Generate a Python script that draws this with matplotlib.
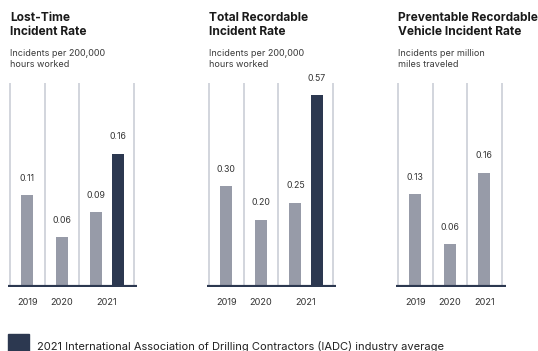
import matplotlib.pyplot as plt
from matplotlib.patches import Rectangle

plt.rcParams['font.family'] = ['Inter', 'DejaVu Sans']

# データ
titles = ["Lost-Time\nIncident Rate",
          "Total Recordable\nIncident Rate",
          "Preventable Recordable\nVehicle Incident Rate"]
subtitles = ["Incidents per 200,000\nhours worked",
             "Incidents per 200,000\nhours worked",
             "Incidents per million\nmiles traveled"]
years = ["2019", "2020", "2021"]
company_vals = [[0.11, 0.06, 0.09],
                [0.30, 0.20, 0.25],
                [0.13, 0.06, 0.16]]
iadc_vals = [0.16, 0.57, None]  # 2021 IADC平均（3つ目はなし）
ymax = [0.245, 0.606, 0.286]

grey = '#979ba8'
navy = '#2c3850'
grid_c = '#cfd2da'

W, H = 538, 351
fig = plt.figure(figsize=(W / 100, H / 100), dpi=100)

unit = 34.5
lefts = [8, 207, 396]
for i in range(3):
    has_iadc = iadc_vals[i] is not None
    x0, x1 = -0.56, (3.18 if has_iadc else 2.62)
    ax = fig.add_axes([lefts[i] / W, 64 / H, (x1 - x0) * unit / W, 204 / H])
    ax.set_xlim(x0, x1)
    ax.set_ylim(0, ymax[i])

    xs = [0, 1, 2]
    ax.bar(xs, company_vals[i], width=0.34, color=grey, zorder=2)
    for x, v in zip(xs, company_vals[i]):
        ax.annotate(f"{v:.2f}", (x, v), xytext=(0, 9), textcoords='offset points',
                    ha='center', va='bottom', fontsize=6.3, color='#333333')
    seps = [-0.5, 0.5, 1.5, 2.5]
    if has_iadc:
        ax.bar([2.62], [iadc_vals[i]], width=0.34, color=navy, zorder=2)
        ax.annotate(f"{iadc_vals[i]:.2f}", (2.62, iadc_vals[i]), xytext=(0, 9),
                    textcoords='offset points', ha='center', va='bottom',
                    fontsize=6.3, color='#333333')
        seps = [-0.5, 0.5, 1.5, 3.1]
        xs = [0, 1, 2.31]
    for s in seps:
        ax.axvline(s, color=grid_c, lw=1.3, zorder=1)
    ax.axhline(0, color=navy, lw=3, zorder=3)

    ax.set_xticks(xs)
    ax.set_xticklabels(years, fontsize=6.6, color='#333333')
    ax.tick_params(axis='x', length=0, pad=8)
    ax.set_yticks([])
    for sp in ax.spines.values():
        sp.set_visible(False)

    tx = (lefts[i] + 2) / W
    fig.text(tx, 1 - 12 / H, titles[i], fontsize=8.6, fontweight='bold',
             color='#1a1a1a', ha='left', va='top', linespacing=1.2)
    fig.text(tx, 1 - 49 / H, subtitles[i], fontsize=6.5, color='#3a3a3a',
             ha='left', va='top', linespacing=1.3)

# 凡例
fig.patches.append(Rectangle((8 / W, -4 / H), 21 / W, 21 / H, color=navy,
                             transform=fig.transFigure, figure=fig))
fig.text(37 / W, 1 - 347 / H, "2021 International Association of Drilling Contractors (IADC) industry average",
         fontsize=8, color='#222222', ha='left', va='center')

fig.savefig('out.png', dpi=100, facecolor='white')
